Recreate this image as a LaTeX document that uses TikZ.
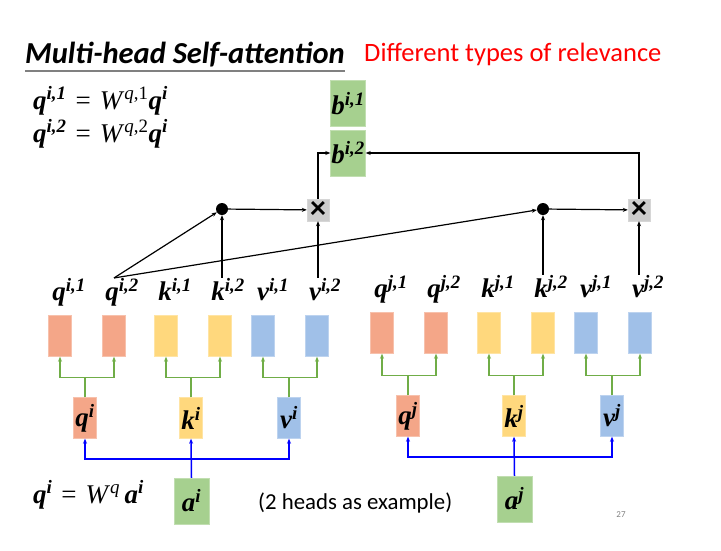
\documentclass[tikz,border=0pt]{standalone}
\usepackage{fontspec}
\setmainfont{Carlito}
\newfontfamily\symfont{Liberation Serif}
\newcommand{\bv}[2]{{\bfseries\itshape #1\textsuperscript{#2}}}
\usepackage{tikz}
\usetikzlibrary{positioning,arrows.meta}

\definecolor{qcol}{RGB}{244,166,136}
\definecolor{kcol}{RGB}{255,216,125}
\definecolor{vcol}{RGB}{160,192,232}
\definecolor{gcol}{RGB}{166,208,143}
\definecolor{mcol}{RGB}{204,204,204}
\definecolor{glin}{RGB}{112,173,71}

\begin{document}
\begin{tikzpicture}[
  x=1pt, y=-1pt,
  vec/.style={minimum width=23pt, minimum height=41pt, inner sep=0pt, font=\symfont\fontsize{27}{30}\selectfont},
  qv/.style={vec, fill=qcol, draw=qcol!70!white},
  kv/.style={vec, fill=kcol, draw=kcol!70!white},
  vv/.style={vec, fill=vcol, draw=vcol!70!white},
  gv/.style={vec, minimum width=35pt, minimum height=46pt, fill=gcol, draw=gcol!70!white},
  lbl/.style={inner sep=0pt, anchor=base, font=\symfont\fontsize{27}{30}\selectfont},
  eqn/.style={anchor=base west, inner sep=0pt, font=\symfont\fontsize{27}{30}\selectfont},
  dot/.style={circle, fill=black, inner sep=0pt, minimum size=12pt},
  mul/.style={fill=mcol, draw=mcol!80!white, minimum size=22pt, inner sep=0pt, font=\fontsize{32}{32}\selectfont\bfseries},
  arr/.style={-{Stealth[length=5pt,width=4pt]}, line width=1.2pt},
  garr/.style={-{Stealth[length=5pt,width=4pt]}, line width=1.5pt, glin},
  barr/.style={-{Stealth[length=5pt,width=4pt]}, line width=1.5pt, blue}
]
  \useasboundingbox (0,0) rectangle (721,550);

  % heading
  \node[anchor=base west, inner sep=0pt, font=\fontsize{30.5}{34}\selectfont\bfseries\itshape] (title) at (25,63) {Multi-head Self-attention};
  \draw[gray, line width=1.5pt] (25,71) -- (345,71);
  \node[anchor=base west, inner sep=0pt, text=red, font=\fontsize{26.5}{30}\selectfont] (rel) at (364,61) {Different types of relevance};

  % formulas
  \node[eqn] (eq1) at (33,109) {\bv{q}{i,1}\hspace{9pt}=\hspace{9pt}\textit{W}\textsuperscript{\textit{q},1}\bv{q}{i}};
  \node[eqn] (eq2) at (33,142) {\bv{q}{i,2}\hspace{9pt}=\hspace{9pt}\textit{W}\textsuperscript{\textit{q},2}\bv{q}{i}};
  \node[eqn] (eq3) at (33,503) {\bv{q}{i}\hspace{9pt}=\hspace{9pt}\textit{W}\textsuperscript{\textit{q}}\,\bv{a}{i}};

  % outputs
  \node[gv] (b1) at (348,103.5) {\bv{b}{i,1}};
  \node[gv] (b2) at (348,153) {\bv{b}{i,2}};

  % inputs
  \node[gv] (ai) at (191.5,501) {\bv{a}{i}};
  \node[gv] (aj) at (514.5,499) {\bv{a}{j}};

  % q k v
  \node[qv] (qi) at (85,418) {\bv{q}{i}};
  \node[kv] (ki) at (191,418) {\bv{k}{i}};
  \node[vv] (vi) at (289,418) {\bv{v}{i}};
  \node[qv] (qj) at (408,416) {\bv{q}{j}};
  \node[kv] (kj) at (514,416) {\bv{k}{j}};
  \node[vv] (vj) at (612,416) {\bv{v}{j}};

  % heads
  \node[qv] (qi1) at (60,336) {};
  \node[qv] (qi2) at (114,336) {};
  \node[kv] (ki1) at (166,336) {};
  \node[kv] (ki2) at (220,336) {};
  \node[vv] (vi1) at (263,336) {};
  \node[vv] (vi2) at (317,336) {};
  \node[qv] (qj1) at (382,333) {};
  \node[qv] (qj2) at (436,333) {};
  \node[kv] (kj1) at (489,333) {};
  \node[kv] (kj2) at (543,333) {};
  \node[vv] (vj1) at (586,333) {};
  \node[vv] (vj2) at (640,333) {};

  \node[lbl, above=15pt of qi1.north, anchor=base, xshift=9pt] (lqi1) {\bv{q}{i,1}};
  \node[lbl, above=15pt of qi2.north, anchor=base, xshift=8pt] (lqi2) {\bv{q}{i,2}};
  \node[lbl, above=15pt of ki1.north, anchor=base, xshift=9pt] (lki1) {\bv{k}{i,1}};
  \node[lbl, above=15pt of ki2.north, anchor=base, xshift=8pt] (lki2) {\bv{k}{i,2}};
  \node[lbl, above=15pt of vi1.north, anchor=base, xshift=10pt] (lvi1) {\bv{v}{i,1}};
  \node[lbl, above=15pt of vi2.north, anchor=base, xshift=8pt] (lvi2) {\bv{v}{i,2}};
  \node[lbl, above=15pt of qj1.north, anchor=base, xshift=9pt] (lqj1) {\bv{q}{j,1}};
  \node[lbl, above=15pt of qj2.north, anchor=base, xshift=8pt] (lqj2) {\bv{q}{j,2}};
  \node[lbl, above=15pt of kj1.north, anchor=base, xshift=9pt] (lkj1) {\bv{k}{j,1}};
  \node[lbl, above=15pt of kj2.north, anchor=base, xshift=8pt] (lkj2) {\bv{k}{j,2}};
  \node[lbl, above=15pt of vj1.north, anchor=base, xshift=10pt] (lvj1) {\bv{v}{j,1}};
  \node[lbl, above=15pt of vj2.north, anchor=base, xshift=8pt] (lvj2) {\bv{v}{j,2}};

  % attention
  \node[dot] (d1) at (222,209) {};
  \node[dot] (d2) at (543,209) {};
  \node[mul] (m1) at (318,210) {×};
  \node[mul] (m2) at (639,210) {×};

  \draw[arr] (qi2 |- lqi2.north) -- (d1);
  \draw[arr] (qi2 |- lqi2.north) -- (d2);
  \draw[arr] (d1 |- lki2.north) -- (d1);
  \draw[arr] (m1 |- lvi2.north) -- (m1);
  \draw[arr] (d2 |- lkj2.north) -- (d2);
  \draw[arr] (m2 |- lvj2.north) -- (m2);
  \draw[arr] (d1) -- (m1);
  \draw[arr] (d2) -- (m2);
  \draw[arr] (m1.north) |- (b2.west);
  \draw[arr] (m2.north) |- (b2.east);

  % split into heads
  \foreach \s/\a/\b in {qi/qi1/qi2, ki/ki1/ki2, vi/vi1/vi2, qj/qj1/qj2, kj/kj1/kj2, vj/vj1/vj2} {
    \draw[garr] (\s.north) -- ++(0,-20) -| (\a.south);
    \draw[garr] (\s.north) ++(0,-20) -| (\b.south);
  }

  % projections
  \draw[barr] (ai.north) -- (ki.south);
  \draw[barr] (ai.north) ++(0,-19) -| (qi.south);
  \draw[barr] (ai.north) ++(0,-19) -| (vi.south);
  \draw[barr] (aj.north) -- (kj.south);
  \draw[barr] (aj.north) ++(0,-19) -| (qj.south);
  \draw[barr] (aj.north) ++(0,-19) -| (vj.south);

  \node[anchor=base west, inner sep=0pt, font=\fontsize{22.8}{26}\selectfont] (note) at (258,509) {(2 heads as example)};
  \node[anchor=base, inner sep=0pt, text=gray, font=\fontsize{9}{10}\selectfont] (page) at (621,517) {27};
\end{tikzpicture}
\end{document}
